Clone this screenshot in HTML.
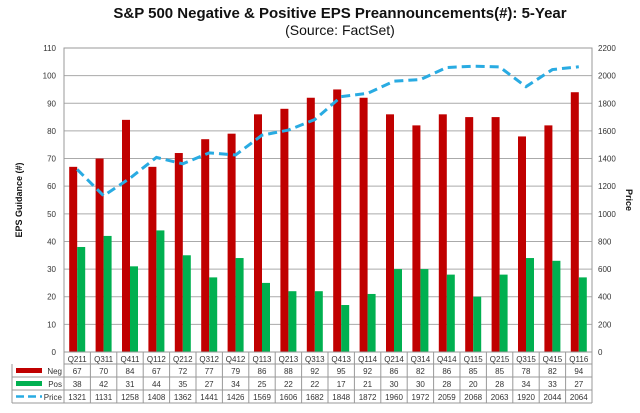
<!DOCTYPE html>
<html><head><meta charset="utf-8"><style>
body{margin:0;background:#fff;font-family:"Liberation Sans",sans-serif;}
</style></head><body>
<svg id="chart" width="640" height="408" xmlns="http://www.w3.org/2000/svg">
<text x="340" y="18" text-anchor="middle" font-size="15" font-weight="bold" fill="#111">S&amp;P 500 Negative &amp; Positive EPS Preannouncements(#): 5-Year</text>
<text x="340" y="35" text-anchor="middle" font-size="14" fill="#111">(Source: FactSet)</text>
<text transform="translate(22,200) rotate(-90)" text-anchor="middle" font-size="9" font-weight="bold" fill="#111">EPS Guidance (#)</text>
<text transform="translate(626,200) rotate(90)" text-anchor="middle" font-size="9" font-weight="bold" fill="#111">Price</text>
<g id="grid"></g><g id="bars"></g><g id="line"></g><g id="table"></g>
</svg>
<script>
const categories=["Q211","Q311","Q411","Q112","Q212","Q312","Q412","Q113","Q213","Q313","Q413","Q114","Q214","Q314","Q414","Q115","Q215","Q315","Q415","Q116"];
const negValues=[67,70,84,67,72,77,79,86,88,92,95,92,86,82,86,85,85,78,82,94];
const posValues=[38,42,31,44,35,27,34,25,22,22,17,21,30,30,28,20,28,34,33,27];
const priceValues=[1321,1131,1258,1408,1362,1441,1426,1569,1606,1682,1848,1872,1960,1972,2059,2068,2063,1920,2044,2064];
const leftTicks=[0,10,20,30,40,50,60,70,80,90,100,110];
const rightTicks=[0,200,400,600,800,1000,1200,1400,1600,1800,2000,2200];
const NS="http://www.w3.org/2000/svg";
const L=64,R=592,T=48,B=352;
const n=categories.length,cw=(R-L)/n;
const y1=v=>B-(v/110)*(B-T);
const y2=v=>B-(v/2200)*(B-T);
const xc=i=>L+cw*(i+0.5);
function mk(tag,attrs,parent,txt){const e=document.createElementNS(NS,tag);for(const k in attrs)e.setAttribute(k,attrs[k]);if(txt!==undefined)e.textContent=txt;document.getElementById(parent).appendChild(e);return e;}
leftTicks.forEach(t=>{
 const g=mk('line',{x1:L,x2:R,y1:y1(t),y2:y1(t),stroke:'#aaa','stroke-width':1},'grid');
 
 
 const tx=mk('text',{x:L-8,y:y1(t)+3,'text-anchor':'end','font-size':8,fill:'#333'},'grid',t);
 
 
});
rightTicks.forEach(t=>{
 const tx=mk('text',{x:R+6,y:y2(t)+3,'font-size':8,fill:'#333'},'grid',t);
 
 
});
const fr=mk('rect',{x:L,y:T,width:R-L,height:B-T,fill:'none',stroke:'#999'},'grid');


categories.forEach((c,i)=>{
 const bw=8;
 const r=mk('rect',{x:xc(i)-bw,y:y1(negValues[i]),width:bw,height:B-y1(negValues[i]),fill:'#c00000'},'bars');
 
 
 const g=mk('rect',{x:xc(i),y:y1(posValues[i]),width:bw,height:B-y1(posValues[i]),fill:'#00b050'},'bars');
 
 
});
const pts=priceValues.map((v,i)=>xc(i)+','+y2(v)).join(' ');
const pl=mk('polyline',{points:pts,fill:'none',stroke:'#29abe2','stroke-width':3,'stroke-dasharray':'9,5'},'line');


// table
const rows=[["Neg",negValues,'#c00000'],["Pos",posValues,'#00b050'],["Price",priceValues,'#29abe2']];
const rowY=[352,364,377,390,403];
const tx0=12;
mk('line',{x1:L,x2:R,y1:rowY[0],y2:rowY[0],stroke:'#999'},'table');
for(let r=1;r<5;r++){mk('line',{x1:r==1?L:tx0,x2:R,y1:rowY[r],y2:rowY[r],stroke:'#999'},'table');}
mk('line',{x1:tx0,x2:tx0,y1:rowY[1],y2:rowY[4],stroke:'#999'},'table');
for(let i=0;i<=n;i++){mk('line',{x1:L+cw*i,x2:L+cw*i,y1:rowY[0],y2:rowY[4],stroke:'#999'},'table');}
categories.forEach((c,i)=>{
 const t=mk('text',{x:xc(i),y:rowY[0]+10,'text-anchor':'middle','font-size':8,fill:'#333'},'table',c);
 
 
});
rows.forEach((row,ri)=>{
 const yy=rowY[ri+1];
 if(ri<2){mk('rect',{x:16,y:yy+4,width:26,height:5,fill:row[2]},'table');}
 else{mk('line',{x1:16,x2:42,y1:yy+6.5,y2:yy+6.5,stroke:row[2],'stroke-width':2.5,'stroke-dasharray':'8,4'},'table');}
 const lb=mk('text',{x:62,y:yy+10,'text-anchor':'end','font-size':8,fill:'#333'},'table',row[0]);
 
 
 row[1].forEach((v,i)=>{
  const t=mk('text',{x:xc(i),y:yy+10,'text-anchor':'middle','font-size':8,fill:'#333'},'table',v);
  
  
 });
});
</script>
</body></html>
